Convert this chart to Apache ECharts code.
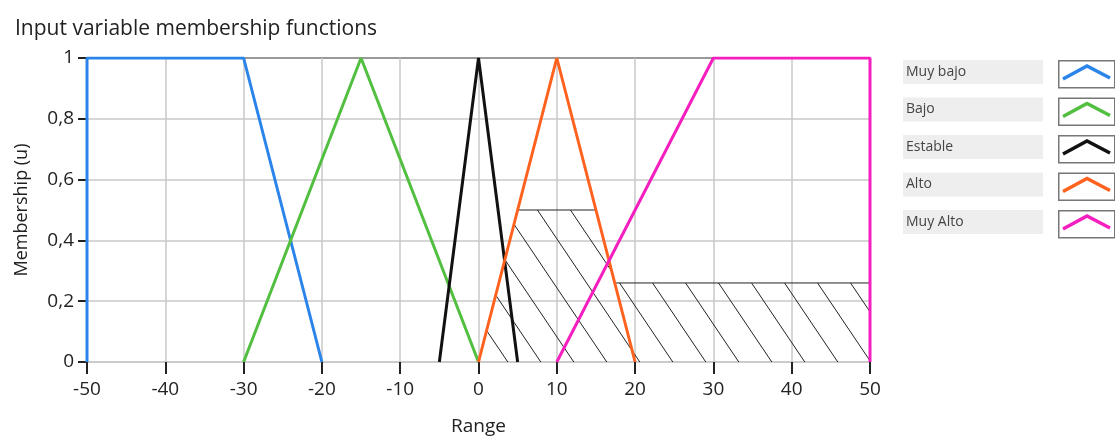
<!DOCTYPE html>
<html>
<head>
<meta charset="utf-8">
<script src="https://cdn.jsdelivr.net/npm/echarts@6/dist/echarts.min.js"></script>
<style>
  html, body { margin: 0; padding: 0; background: #fff; }
  #chart { width: 1115px; height: 438px; }
</style>
</head>
<body>
<div id="chart"></div>
<script>
// membership function breakpoints [range, membership]
const names = ['Muy bajo', 'Bajo', 'Estable', 'Alto', 'Muy Alto'];
const colors = ['#2a84ea', '#52bf40', '#111111', '#ff621f', '#f51fc0'];
const muyBajo = [[-50, 0], [-50, 1], [-30, 1], [-20, 0]];
const bajo = [[-30, 0], [-15, 1], [0, 0]];
const estable = [[-5, 0], [0, 1], [5, 0]];
const alto = [[0, 0], [10, 1], [20, 0]];
const muyAlto = [[10, 0], [30, 1], [50, 1], [50, 0]];
// clipped output region (hatched)
const hatched = [[0, 0], [5, 0.5], [15, 0.5], [17.4, 0.26], [50, 0.26], [50, 0]];

const xTicks = [-50, 50, 10];
const yTicks = [0, 1, 0.2];

const FONT = '"Open Sans", "DejaVu Sans", sans-serif';

// diagonal hatch pattern tile
const makeHatch = () => {
  const w = 33, h = 49;
  const c = document.createElement('canvas');
  c.width = w;
  c.height = h;
  const ctx = c.getContext('2d');
  ctx.strokeStyle = '#222';
  ctx.lineWidth = 1;
  for (let k = -1; k <= 1; k++) {
    ctx.beginPath();
    ctx.moveTo(k * w - w, -h);
    ctx.lineTo(k * w + 2 * w, 2 * h);
    ctx.stroke();
  }
  return c;
};

const chart = echarts.init(document.getElementById('chart'));

const mfSeries = [muyBajo, bajo, estable, alto, muyAlto].map((data, i) => ({
  name: names[i],
  type: 'line',
  data,
  symbol: 'none',
  z: 5,
  lineStyle: { color: colors[i], width: 3 },
  animation: false,
}));

const legendGraphics = [];
names.forEach((n, i) => {
  const y = 60 + i * 37.5;
  legendGraphics.push(
    { type: 'rect', left: 903, top: y, shape: { width: 140, height: 24 }, style: { fill: '#eeeeee' } },
    {
      type: 'text',
      x: 906,
      y: y + 12,
      style: { text: n, fill: '#444', font: '14px ' + FONT, verticalAlign: 'middle' },
    },
    { type: 'rect', left: 1058, top: y, shape: { width: 56, height: 27 }, style: { fill: '#fff', stroke: '#777', lineWidth: 1.5 } },
    {
      type: 'polyline',
      shape: { points: [[1063, y + 19], [1087, y + 6], [1110, y + 18]] },
      style: { stroke: colors[i], lineWidth: 3.5, fill: null },
    }
  );
});

const tickStyle = { color: '#222', width: 2 };

chart.setOption({
  animation: false,
  title: {
    text: 'Input variable membership functions',
    left: 10,
    top: 14,
    textStyle: { fontFamily: FONT, fontSize: 21, fontWeight: 'normal', color: '#222' },
  },
  grid: { left: 87, right: 245, top: 58, bottom: 76, outerBoundsMode: 'none', containLabel: false },
  xAxis: {
    type: 'value',
    min: xTicks[0],
    max: xTicks[1],
    interval: xTicks[2],
    name: 'Range',
    nameLocation: 'middle',
    nameGap: 55,
    nameTextStyle: { fontFamily: FONT, fontSize: 19, color: '#222' },
    axisLine: { show: true, onZero: false, lineStyle: { color: '#c8c8c8', width: 1.5 } },
    axisTick: { show: true, length: 12, lineStyle: tickStyle },
    axisLabel: { margin: 18, fontFamily: FONT, fontSize: 19, color: '#222' },
    splitLine: { show: true, lineStyle: { color: '#c8c8c8', width: 1.5 } },
  },
  yAxis: {
    type: 'value',
    min: yTicks[0],
    max: yTicks[1],
    interval: yTicks[2],
    name: 'Membership (u)',
    nameLocation: 'middle',
    nameGap: 56,
    nameTextStyle: { fontFamily: FONT, fontSize: 18, color: '#222' },
    axisLine: { show: true, onZero: false, lineStyle: { color: '#c8c8c8', width: 1.5 } },
    axisTick: { show: true, length: 9, lineStyle: tickStyle },
    axisLabel: {
      margin: 13,
      fontFamily: FONT,
      fontSize: 19,
      color: '#222',
      formatter: (v) => String(Math.round(v * 10) / 10).replace('.', ','),
    },
    splitLine: {
      show: true,
      lineStyle: { color: ['#c8c8c8', '#c8c8c8', '#c8c8c8', '#c8c8c8', '#c8c8c8', '#777'], width: 1.5 },
    },
  },
  graphic: legendGraphics,
  series: [
    {
      name: 'hatch',
      type: 'line',
      data: hatched,
      symbol: 'none',
      z: 2,
      lineStyle: { color: '#222', width: 1 },
      areaStyle: { color: { image: makeHatch(), repeat: 'repeat' }, opacity: 1 },
      animation: false,
    },
    ...mfSeries,
  ],
});
</script>
</body>
</html>
